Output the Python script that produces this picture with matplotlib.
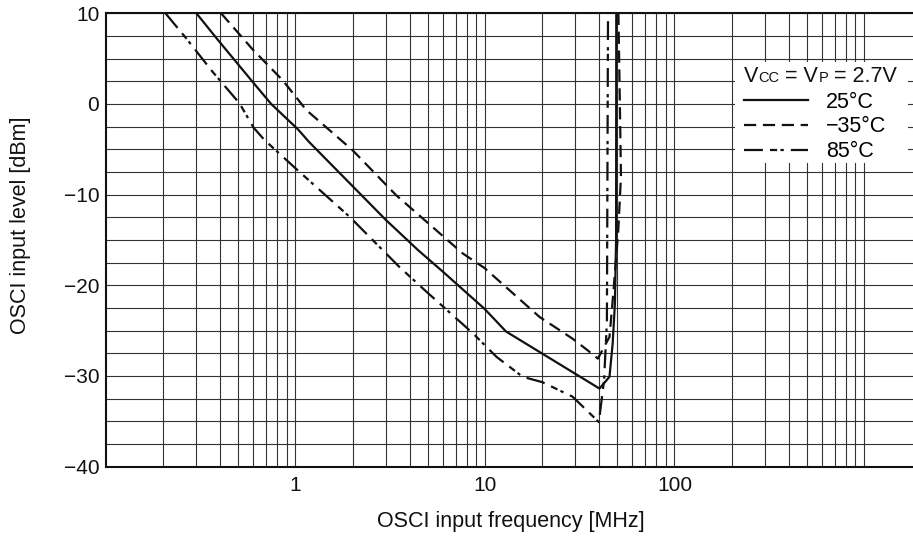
import numpy as np
import matplotlib
matplotlib.use('Agg')
import matplotlib.pyplot as plt
from matplotlib.ticker import FixedLocator, FixedFormatter, LogLocator, MultipleLocator, NullFormatter
from matplotlib.patches import Rectangle
from matplotlib.offsetbox import TextArea, HPacker, AnnotationBbox

plt.rcParams['font.family'] = ['Liberation Sans', 'DejaVu Sans']

# curves (frequency in MHz, level in dBm)
f_25 = [0.30, 0.39, 0.585, 0.744, 1.03, 1.18, 3.0, 4.42, 5.99, 9.94, 12.9, 40.2, 45.4, 47.2, 48.5, 49.2, 49.3]
v_25 = [10, 7.05, 2.6, 0.0, -2.8, -4.2, -12.8, -16.1, -18.5, -22.6, -25.1, -31.4, -30.1, -26.4, -22.0, -15.0, 10]

f_m35 = [0.405, 0.595, 0.857, 1.14, 2.0, 3.39, 7.64, 9.94, 19.4, 29.0, 34.9, 39.4, 45.4, 47.5, 50.5, 52.2, 51.5, 50.6]
v_m35 = [10, 6.0, 2.6, -0.67, -5.1, -10.05, -16.5, -18.1, -23.5, -25.9, -27.2, -28.1, -25.7, -21.0, -14.0, -8.0, 0.0, 10]

f_85 = [0.206, 0.265, 0.365, 0.507, 0.60, 0.686, 1.0, 1.93, 3.54, 4.9, 8.63, 11.5, 15.8, 20.1, 29.0, 39.9, 42.5, 44.0, 44.6]
v_85 = [10, 7.24, 3.55, 0.06, -2.6, -3.98, -7.1, -12.45, -18.0, -20.7, -25.3, -27.9, -30.1, -30.7, -32.3, -35.1, -30.5, -24.0, 10]

labels = ['25\u00b0C', '\u221235\u00b0C', '85\u00b0C']
x_ticks = [1, 10, 100, 1000]
x_ticklabels = ['1', '10', '100', '']
y_ticks = [-40, -30, -20, -10, 0, 10]

W, H = 913, 541
fig = plt.figure(figsize=(W / 100, H / 100), dpi=100)

def fx(px):
    return px / W

def fy(py):
    return 1 - py / H

ax = fig.add_axes([fx(106), fy(466.5), fx(921) - fx(106), fy(13.3) - fy(466.5)])
ax.set_xscale('log')
ax.set_xlim(0.1, 2000)
ax.set_ylim(-40, 10)

ax.xaxis.set_major_locator(FixedLocator(x_ticks))
ax.xaxis.set_major_formatter(FixedFormatter(x_ticklabels))
ax.xaxis.set_minor_locator(LogLocator(base=10, subs=np.arange(2, 10), numticks=30))
ax.xaxis.set_minor_formatter(NullFormatter())
ax.yaxis.set_major_locator(FixedLocator(y_ticks))
ax.yaxis.set_minor_locator(MultipleLocator(2.5))

ax.grid(True, which='both', color='#333333', linewidth=0.8)
ax.set_axisbelow(True)
ax.tick_params(which='both', length=0, labelsize=15, colors='#111111')
ax.tick_params(axis='x', pad=7)
ax.tick_params(axis='y', pad=4.8)
for s in ax.spines.values():
    s.set_linewidth(1.5)
    s.set_color('#111111')

l1, = ax.plot(f_25, v_25, color='#111111', lw=1.6, ls='-', label=labels[0])
l2, = ax.plot(f_m35, v_m35, color='#111111', lw=1.6, ls=(0, (5.5, 3)), label=labels[1])
l3, = ax.plot(f_85, v_85, color='#111111', lw=1.6, ls=(0, (8.5, 3.2, 3.2, 1.5, 1.5, 3.2)), label=labels[2])

ax.set_xlabel('OSCI input frequency [MHz]', fontsize=15.5, color='#111111')
ax.set_ylabel('OSCI input level [dBm]', fontsize=15.5, color='#111111')
ax.xaxis.set_label_coords(0.4965, -0.098)
ax.yaxis.set_label_coords(-0.092, 0.532)

# white legend area with the supply condition on top
ax.add_patch(Rectangle((fx(735), fy(163)), fx(908) - fx(735), fy(62) - fy(163),
                       transform=fig.transFigure, facecolor='white', edgecolor='none', zorder=2))
parts = [('V', 15.5), ('CC', 10.5), (' = V', 15.5), ('P', 10.5), (' = 2.7V', 15.5)]
title = HPacker(children=[TextArea(t, textprops=dict(size=s, color='#111111')) for t, s in parts],
                align='baseline', pad=0, sep=0)
ab = AnnotationBbox(title, (fx(744), fy(76)), xycoords='figure fraction', frameon=False,
                    box_alignment=(0, 0.5), zorder=6)
fig.add_artist(ab)

leg = ax.legend(handles=[l1, l2, l3], loc='upper left', bbox_to_anchor=(fx(744), fy(91.6)),
                bbox_transform=fig.transFigure, frameon=False, fontsize=15.5,
                handlelength=2.98, handletextpad=0.82, labelspacing=0.18, borderpad=0,
                borderaxespad=0)
leg.set_zorder(6)

fig.savefig('out.png', dpi=100)
